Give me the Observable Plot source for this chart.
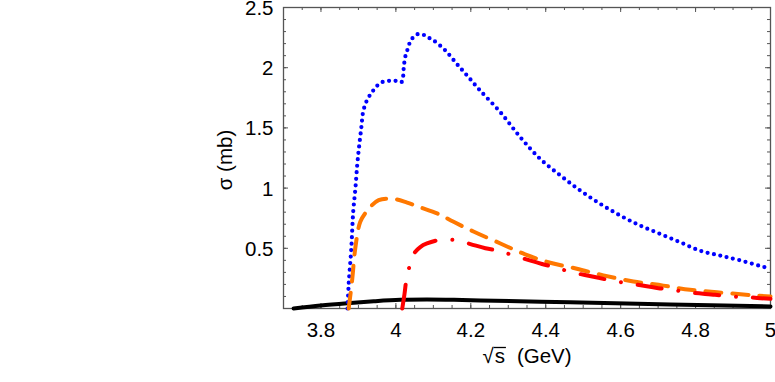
<!DOCTYPE html>
<html>
<head>
<meta charset="utf-8">
<script src="https://cdn.jsdelivr.net/npm/d3@7"></script>
<script src="https://cdn.jsdelivr.net/npm/@observablehq/plot@0.6"></script>
<style>
  html, body { margin: 0; padding: 0; background: #fff; }
  #chart { width: 775px; height: 382px; }
  #chart svg text { font-family: 'Liberation Sans', Arial, Helvetica, sans-serif !important; font-size: 20.5px !important; }
</style>
</head>
<body>
<div id="chart"></div>
<script>
// ---- data ----
const blueX = [3.871, 3.874, 3.881, 3.886, 3.892, 3.897, 3.902, 3.908, 3.913, 3.923, 3.937, 3.950, 3.963, 3.977, 3.990, 4.003, 4.015, 4.019, 4.021, 4.025, 4.030, 4.039, 4.052, 4.063, 4.076, 4.087, 4.101, 4.132, 4.163, 4.190, 4.225, 4.279, 4.332, 4.385, 4.439, 4.492, 4.545, 4.599, 4.652, 4.705, 4.759, 4.812, 4.865, 4.919, 4.985, 5.0];
const blueY = [0, 0.2, 0.5, 0.8, 1.0, 1.2, 1.35, 1.51, 1.64, 1.73, 1.80, 1.85, 1.88, 1.89, 1.89, 1.89, 1.88, 1.92, 2.00, 2.09, 2.14, 2.22, 2.27, 2.28, 2.27, 2.25, 2.226, 2.143, 2.03, 1.935, 1.81, 1.63, 1.423, 1.243, 1.105, 0.98, 0.87, 0.772, 0.689, 0.62, 0.55, 0.48, 0.44, 0.40, 0.343, 0.335];

const orangeX = [3.874, 3.883, 3.892, 3.905, 3.923, 3.954, 3.994, 4.030, 4.065, 4.110, 4.154, 4.207, 4.279, 4.345, 4.412, 4.483, 4.554, 4.634, 4.714, 4.785, 4.857, 4.953, 5.0];
const orangeY = [0, 0.23, 0.51, 0.72, 0.81, 0.90, 0.91, 0.88, 0.84, 0.79, 0.72, 0.64, 0.54, 0.45, 0.38, 0.33, 0.275, 0.225, 0.19, 0.155, 0.135, 0.11, 0.10];

const redX = [4.017, 4.023, 4.028, 4.037, 4.047, 4.065, 4.083, 4.123, 4.163, 4.199, 4.239, 4.279, 4.314, 4.390, 4.430, 4.465, 4.541, 4.583, 4.621, 4.701, 4.741, 4.777, 4.852, 4.897, 4.937, 5.0];
const redY = [0, 0.12, 0.24, 0.357, 0.45, 0.51, 0.54, 0.573, 0.565, 0.535, 0.50, 0.476, 0.44, 0.37, 0.338, 0.305, 0.255, 0.227, 0.21, 0.169, 0.155, 0.135, 0.114, 0.10, 0.094, 0.08];

const blackX = [3.727, 3.799, 3.870, 3.941, 4.012, 4.083, 4.155, 4.225, 4.465, 4.732, 5.0];
const blackY = [0, 0.025, 0.044, 0.06, 0.072, 0.075, 0.072, 0.066, 0.052, 0.033, 0.017];

const xTicks = [3.8, 4.0, 4.2, 4.4, 4.6, 4.8, 5.0];
const xTickLabels = ["3.8", "4", "4.2", "4.4", "4.6", "4.8", "5"];
const yTicks = [0.5, 1.0, 1.5, 2.0, 2.5];
const yTickLabels = ["0.5", "1", "1.5", "2", "2.5"];
const xMinorTicks = d3.range(0, 27).map(i => +(3.7 + i * 0.05).toFixed(2));
const yMinorTicks = d3.range(0, 26).map(i => +(i * 0.1).toFixed(1));
const yMajorTicks = [0, 0.5, 1.0, 1.5, 2.0, 2.5];

const xLabelText = ["√", "s", "(GeV)"];
const yLabelText = "σ (mb)";

// ---- build ----
const toRows = (xs, ys) => xs.map((x, i) => ({x, y: ys[i]}));
const blue = toRows(blueX, blueY);
const orange = toRows(orangeX, orangeY);
const red = toRows(redX, redY);
const black = toRows(blackX, blackY);

const FONT = "'Liberation Sans', Arial, Helvetica, sans-serif";
const FS = 20.5;
const frameColor = "#555";

const W = 775, H = 382, ML = 283, MR = 5, MT = 7, MB = 74;
const innerW = W - ML - MR, innerH = H - MT - MB;
const majorLen = 5, minorLen = 3;

const chart = Plot.plot({
  width: W,
  height: H,
  marginLeft: ML,
  marginRight: MR,
  marginTop: MT,
  marginBottom: MB,
  style: {fontFamily: FONT, fontSize: FS + "px", color: "#000", background: "#fff", overflow: "visible"},
  x: {domain: [3.7, 5.0]},
  y: {domain: [0, 2.5]},
  marks: [
    // tick labels
    Plot.axisX(xTicks, {anchor: "bottom", tickSize: 0, tickPadding: 14, fontSize: FS, tickFormat: d => xTickLabels[xTicks.indexOf(d)], label: null, fill: "#000"}),
    Plot.axisY(yTicks, {anchor: "left", tickSize: 0, tickPadding: 10, dy: 1, fontSize: FS, tickFormat: d => yTickLabels[yTicks.indexOf(d)], label: null, fill: "#000"}),
    // inward ticks on all four sides
    Plot.tickX(xTicks, {x: d => d, insetTop: innerH - majorLen, stroke: frameColor}),
    Plot.tickX(xMinorTicks, {x: d => d, insetTop: innerH - minorLen, stroke: frameColor}),
    Plot.tickX(xTicks, {x: d => d, insetBottom: innerH - majorLen, stroke: frameColor}),
    Plot.tickX(xMinorTicks, {x: d => d, insetBottom: innerH - minorLen, stroke: frameColor}),
    Plot.tickY(yMajorTicks, {y: d => d, insetRight: innerW - majorLen, stroke: frameColor}),
    Plot.tickY(yMinorTicks, {y: d => d, insetRight: innerW - minorLen, stroke: frameColor}),
    Plot.tickY(yMajorTicks, {y: d => d, insetLeft: innerW - majorLen, stroke: frameColor}),
    Plot.tickY(yMinorTicks, {y: d => d, insetLeft: innerW - minorLen, stroke: frameColor}),
    Plot.frame({stroke: frameColor, strokeWidth: 1.3}),
    // curves
    Plot.line(black, {x: "x", y: "y", stroke: "#000", strokeWidth: 4, curve: "catmull-rom"}),
    Plot.line(blue, {x: "x", y: "y", stroke: "#0000ff", strokeWidth: 4.2, strokeDasharray: "0,6.5", strokeLinecap: "round", curve: "catmull-rom"}),
    Plot.line(orange, {x: "x", y: "y", stroke: "#ff7800", strokeWidth: 4, strokeDasharray: "16,11", curve: "catmull-rom"}),
    Plot.line(red, {x: "x", y: "y", stroke: "#ff0000", strokeWidth: 4, strokeDasharray: "24,17,0.01,17", strokeLinecap: "round", curve: "catmull-rom"})
  ]
});

document.getElementById("chart").appendChild(chart);

// axis titles
const svg = d3.select(chart);
const xt = svg.append("text")
  .attr("x", 527).attr("y", 363)
  .attr("text-anchor", "middle")
  .attr("fill", "#000");
xt.append("tspan").text(xLabelText[0]);
const sSpan = xt.append("tspan").attr("dx", 1).text(xLabelText[1]);
xt.append("tspan").attr("dx", 12).text(xLabelText[2]);
// vinculum over the s
const bb = sSpan.node().getBBox();
svg.append("line")
  .attr("x1", bb.x - 1).attr("x2", bb.x + bb.width + 1)
  .attr("y1", bb.y + 3.5).attr("y2", bb.y + 3.5)
  .attr("stroke", "#000").attr("stroke-width", 1.3);

svg.append("text")
  .attr("transform", "translate(232,160) rotate(-90)")
  .attr("text-anchor", "middle")
  .attr("fill", "#000")
  .text(yLabelText);
</script>
</body>
</html>
